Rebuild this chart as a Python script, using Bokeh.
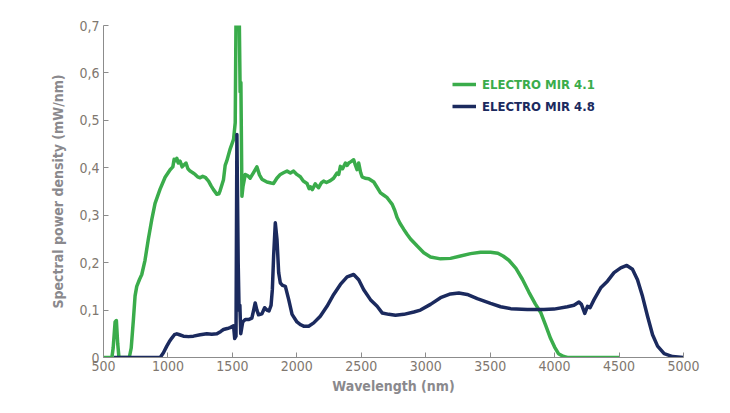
from bokeh.plotting import figure
from bokeh.models import Range1d, FixedTicker, CustomJSTickFormatter, Legend, LegendItem
from bokeh.embed import file_html
from bokeh.resources import INLINE

# ---- data ----
green_wl = [500, 565, 575, 590, 600, 610, 620, 700, 715, 732, 745, 758, 780, 797, 822, 848, 874, 900,
            939, 978, 1017, 1038, 1048, 1060, 1069, 1080, 1094, 1110, 1120, 1140, 1155, 1172, 1190, 1211,
            1230, 1250, 1270, 1289, 1315, 1335, 1353, 1380, 1395, 1405, 1431, 1444, 1457, 1483, 1509, 1522,
            1529, 1540, 1552, 1560, 1566, 1574, 1582, 1600, 1620, 1638, 1664, 1690, 1710, 1729, 1768, 1800,
            1820, 1845, 1872, 1900, 1924, 1950, 1975, 2000, 2027, 2050, 2079, 2095, 2105, 2120, 2143, 2155,
            2169, 2190, 2208, 2230, 2260, 2285, 2312, 2325, 2338, 2355, 2377, 2390, 2403, 2420, 2441, 2455,
            2467, 2480, 2495, 2506, 2530, 2558, 2597, 2620, 2649, 2675, 2701, 2720, 2740, 2760, 2778, 2800,
            2830, 2855, 2882, 2934, 2985, 3037, 3115, 3192, 3270, 3348, 3426, 3503, 3560, 3600, 3645, 3700,
            3750, 3800, 3850, 3892, 3930, 3969, 4000, 4030, 4070, 4100, 4500]
green_val = [0, 0, 0.02, 0.075, 0.078, 0.03, 0, 0, 0.02, 0.08, 0.13, 0.15, 0.165, 0.175, 0.205, 0.25, 0.29, 0.325,
             0.355, 0.38, 0.396, 0.402, 0.418, 0.415, 0.42, 0.41, 0.414, 0.402, 0.405, 0.41, 0.398, 0.393, 0.39, 0.386,
             0.381, 0.379, 0.382, 0.38, 0.372, 0.362, 0.354, 0.344, 0.345, 0.352, 0.375, 0.405, 0.415, 0.44, 0.46, 0.495,
             0.75, 0.75, 0.75, 0.56, 0.58, 0.34, 0.36, 0.386, 0.383, 0.378, 0.39, 0.402, 0.385, 0.376, 0.37, 0.368,
             0.367, 0.378, 0.386, 0.39, 0.393, 0.389, 0.393, 0.386, 0.381, 0.372, 0.367, 0.356, 0.36, 0.354, 0.366, 0.362,
             0.358, 0.368, 0.372, 0.369, 0.373, 0.378, 0.389, 0.386, 0.403, 0.398, 0.41, 0.405, 0.41, 0.413, 0.417, 0.405,
             0.396, 0.41, 0.39, 0.381, 0.378, 0.377, 0.37, 0.36, 0.347, 0.342, 0.337, 0.33, 0.323, 0.31, 0.295, 0.283,
             0.27, 0.26, 0.25, 0.235, 0.221, 0.212, 0.208, 0.209, 0.214, 0.219, 0.222, 0.222, 0.22, 0.214, 0.205, 0.188,
             0.165, 0.138, 0.113, 0.095, 0.068, 0.04, 0.022, 0.008, 0.002, 0, 0]

navy_wl = [580, 940, 965, 991, 1010, 1030, 1050, 1069, 1090, 1120, 1160, 1198, 1250, 1302, 1340, 1380, 1410,
           1431, 1460, 1483, 1509, 1518, 1528, 1535, 1545, 1552, 1558, 1565, 1580, 1600, 1625, 1651, 1665, 1677,
           1690, 1703, 1729, 1750, 1768, 1784, 1800, 1810, 1820, 1833, 1846, 1859, 1872, 1890, 1911, 1937, 1963,
           2001, 2030, 2053, 2092, 2131, 2182, 2234, 2286, 2338, 2390, 2441, 2480, 2519, 2571, 2623, 2662, 2714,
           2765, 2830, 2908, 2959, 3037, 3115, 3192, 3257, 3322, 3400, 3503, 3581, 3659, 3788, 3917, 3995, 4099,
           4150, 4189, 4208, 4234, 4255, 4275, 4306, 4358, 4410, 4461, 4513, 4560, 4604, 4643, 4682, 4721, 4760,
           4799, 4850, 4915, 5000]
navy_val = [0, 0, 0.01, 0.024, 0.033, 0.041, 0.048, 0.05, 0.048, 0.045, 0.044, 0.045, 0.048, 0.05, 0.049, 0.05, 0.055,
            0.059, 0.061, 0.063, 0.067, 0.04, 0.045, 0.47, 0.2, 0.10, 0.11, 0.05, 0.075, 0.08, 0.08, 0.083, 0.1, 0.115,
            0.1, 0.09, 0.092, 0.105, 0.1, 0.098, 0.11, 0.143, 0.214, 0.284, 0.249, 0.179, 0.157, 0.152, 0.15, 0.122, 0.091,
            0.075, 0.069, 0.066, 0.066, 0.073, 0.087, 0.108, 0.133, 0.154, 0.17, 0.175, 0.164, 0.143, 0.122, 0.108, 0.094, 0.091,
            0.089, 0.091, 0.096, 0.1, 0.112, 0.126, 0.134, 0.136, 0.133, 0.124, 0.114, 0.107, 0.103, 0.101, 0.101, 0.102, 0.107,
            0.11, 0.117, 0.112, 0.093, 0.108, 0.105, 0.122, 0.147, 0.161, 0.179, 0.189, 0.194, 0.186, 0.164, 0.129, 0.087, 0.048,
            0.024, 0.008, 0.002, 0]

x_ticks = [500, 1000, 1500, 2000, 2500, 3000, 3500, 4000, 4500, 5000]
y_ticks = [0, 0.1, 0.2, 0.3, 0.4, 0.5, 0.6, 0.7]
series_names = ["ELECTRO MIR 4.1", "ELECTRO MIR 4.8"]
x_title = "Wavelength (nm)"
y_title = "Spectral power density (mW/nm)"

GREEN = "#3aac4b"
NAVY = "#1b2a5e"
TICK_COL = "#80776f"
TITLE_COL = "#8a898d"
FONT = "DejaVu Sans Condensed"

p = figure(width=714, height=404, output_backend="svg", toolbar_location=None,
           x_range=Range1d(500, 5000), y_range=Range1d(0, 0.7),
           min_border_left=103, min_border_right=31, min_border_top=25, min_border_bottom=47)
p.frame_width = 580
p.frame_height = 332
p.outline_line_color = None
p.grid.visible = False
p.background_fill_color = "white"
p.border_fill_color = "white"

g = p.line(green_wl, green_val, line_color=GREEN, line_width=3.5, line_join="round")
n = p.line(navy_wl, navy_val, line_color=NAVY, line_width=3.5, line_join="round")

for ax in (p.xaxis[0], p.yaxis[0]):
    ax.axis_line_color = "#8c8c8c"
    ax.major_tick_line_color = "#8c8c8c"
    ax.major_tick_in = 5
    ax.major_tick_out = 0
    ax.minor_tick_line_color = None
    ax.major_label_text_font = FONT
    ax.major_label_text_font_size = "14px"
    ax.major_label_text_color = TICK_COL
    ax.axis_label_text_font = FONT
    ax.axis_label_text_font_size = "14px"
    ax.axis_label_text_font_style = "bold"
    ax.axis_label_text_color = TITLE_COL

p.xaxis[0].ticker = FixedTicker(ticks=x_ticks)
p.yaxis[0].ticker = FixedTicker(ticks=y_ticks)
p.yaxis[0].formatter = CustomJSTickFormatter(
    code="return tick < 1e-9 ? '0' : tick.toFixed(1).replace('.', ',');")
p.xaxis[0].major_label_standoff = 3
p.yaxis[0].major_label_standoff = 4
p.xaxis[0].axis_label = x_title
p.yaxis[0].axis_label = y_title
p.xaxis[0].axis_label_standoff = 4
p.yaxis[0].axis_label_standoff = 10

for r, name, col, loc in ((g, series_names[0], GREEN, (349, 263)), (n, series_names[1], NAVY, (349, 241))):
    lg = Legend(items=[LegendItem(label=name, renderers=[r])], location=loc,
                border_line_color=None, background_fill_alpha=0,
                padding=0, margin=0, glyph_width=24, glyph_height=20, label_height=20,
                label_standoff=6, label_text_font=FONT, label_text_font_style="bold",
                label_text_font_size="13px", label_text_color=col)
    p.add_layout(lg, "center")

open("out.html", "w").write(file_html(p, INLINE))
